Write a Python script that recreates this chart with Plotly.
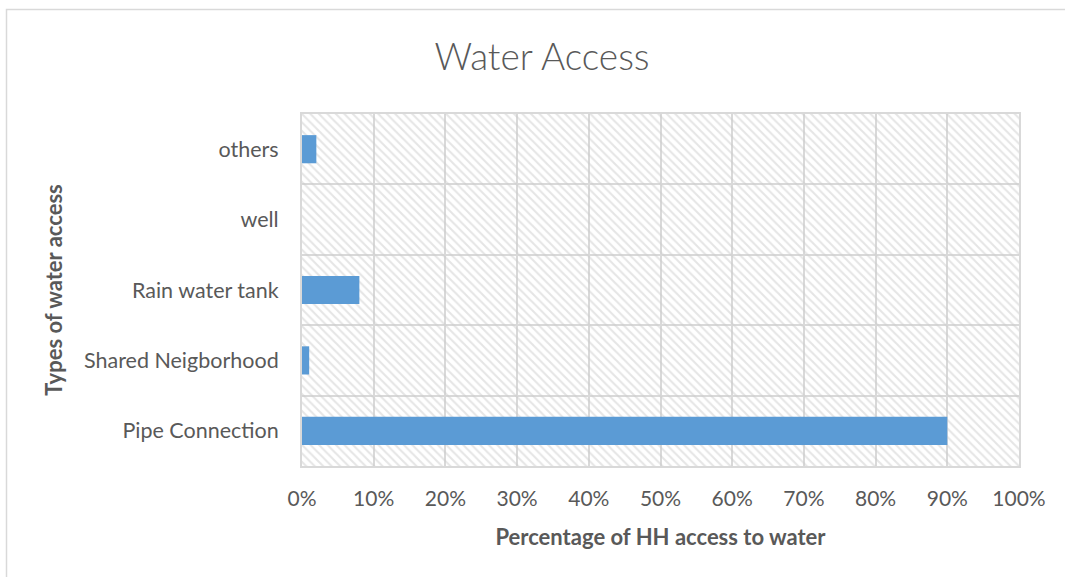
import plotly.graph_objects as go

categories = ["Pipe Connection", "Shared Neigborhood", "Rain water tank", "well", "others"]
values = [0.90, 0.01, 0.08, 0.0, 0.02]
x_ticks = [i / 10 for i in range(11)]
x_ticktext = [f"{i*10}%" for i in range(11)]

W, H = 1065, 577
ml, mr, mt, mb = 302, 46, 114, 111
pw, ph = W - ml - mr, H - mt - mb

def px_to_paper_x(px):
    return (px - ml) / pw

def px_to_paper_y(py):
    return (H - mb - py) / ph

fig = go.Figure()

# hatched plot-area background
fig.add_trace(go.Bar(
    y=categories, x=[x_ticks[-1]] * len(categories), orientation="h",
    width=1, marker=dict(color="rgba(0,0,0,0)", line=dict(width=0),
                         pattern=dict(shape="\\", fgcolor="#cccccc", bgcolor="rgba(0,0,0,0)",
                                      size=6, solidity=0.35, fillmode="overlay")),
    hoverinfo="skip", showlegend=False))

fig.add_trace(go.Bar(
    y=categories, x=values, orientation="h", width=0.4,
    marker=dict(color="#5b9bd5", line=dict(width=0)), showlegend=False))

fig.update_layout(
    width=W, height=H,
    margin=dict(l=ml, r=mr, t=mt, b=mb),
    paper_bgcolor="white", plot_bgcolor="white",
    barmode="overlay",
    font=dict(family="Lato, Carlito, sans-serif", color="#595959"),
    title=dict(text="Water Access", x=px_to_paper_x(542), xref="paper", xanchor="center",
               y=1 - 57 / H, yanchor="middle",
               font=dict(size=37, color="#595959", family="Lato, Carlito, sans-serif", weight=300)),
    xaxis=dict(range=[0, 1], tickvals=x_ticks, ticktext=x_ticktext,
               showgrid=True, gridcolor="#d9d9d9", gridwidth=2,
               showline=True, linecolor="#d9d9d9", linewidth=2, mirror=True,
               zeroline=False, ticks="", tickfont=dict(size=21, color="#595959"),
               ticklabelstandoff=13,
               title=dict(text="<b>Percentage of HH access to water</b>",
                          font=dict(size=22, color="#595959"), standoff=20)),
    yaxis=dict(categoryorder="array", categoryarray=categories,
               tickson="boundaries", showgrid=True, gridcolor="#d9d9d9", gridwidth=2,
               showline=True, linecolor="#d9d9d9", linewidth=2, mirror=True,
               ticks="", tickfont=dict(size=21.5, color="#595959"),
               ticklabelstandoff=17,
               title=dict(text="<b>Types of water access</b>",
                          font=dict(size=22, color="#595959"), standoff=15)),
    shapes=[dict(type="rect", xref="paper", yref="paper",
                 x0=px_to_paper_x(6.5), x1=px_to_paper_x(1100),
                 y0=px_to_paper_y(620), y1=px_to_paper_y(9.5),
                 line=dict(color="#d9d9d9", width=1.5), fillcolor="rgba(0,0,0,0)", layer="below")],
)

fig.write_html("out.html")
